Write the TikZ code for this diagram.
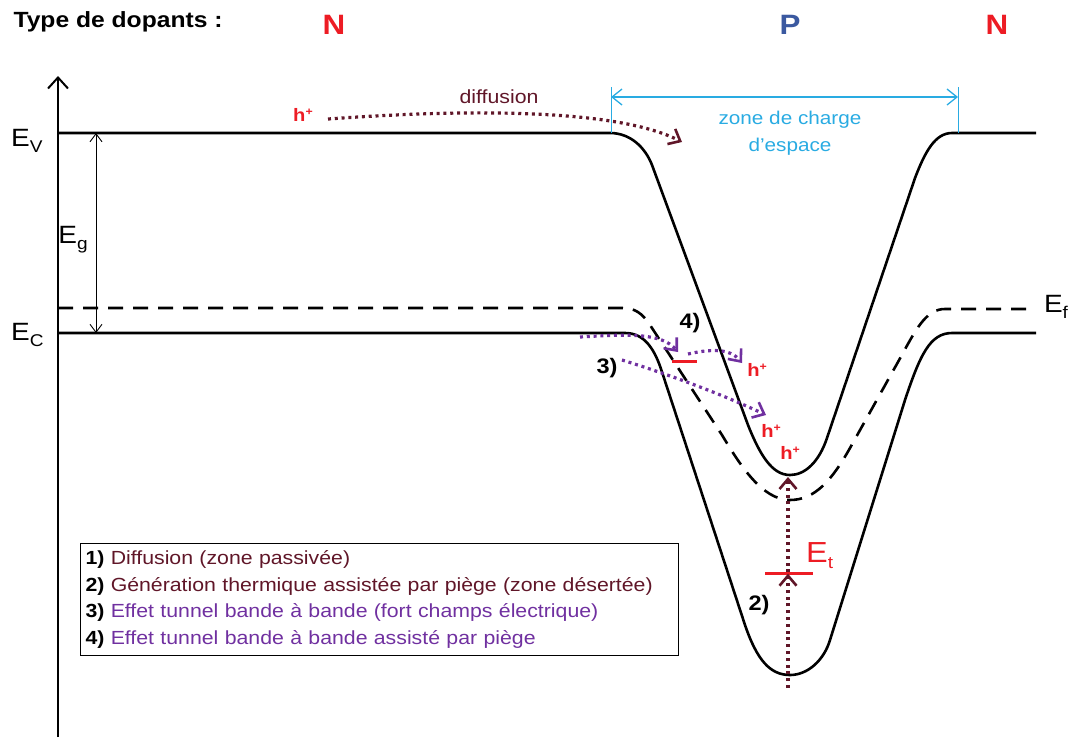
\documentclass[tikz,border=0pt]{standalone}
\usepackage{fontspec}
\setmainfont{Liberation Sans}[FakeStretch=1.12]
\usetikzlibrary{arrows.meta}
\definecolor{rougeN}{RGB}{237,28,36}
\definecolor{bleuP}{RGB}{59,89,160}
\definecolor{cyanZ}{RGB}{41,171,226}
\definecolor{bordeaux}{RGB}{96,22,40}
\definecolor{violetT}{RGB}{112,48,160}
\newcommand{\Elev}[1]{E\raisebox{-0.45ex}{\fontsize{17}{17}\selectfont #1}}
\newcommand{\hplus}{h\raisebox{0.6ex}{\fontsize{11}{11}\selectfont +}}

\begin{document}
\begin{tikzpicture}[x=1pt, y=-1pt, font=\fontsize{20}{24}\selectfont,
  band/.style={line width=2.6pt, line join=round},
  fermi/.style={band, dash pattern=on 15pt off 10pt},
  dotarr/.style={line width=3.2pt, dash pattern=on 3pt off 3.8pt,
                 -{Straight Barb[length=10pt, width=17pt, line width=2.6pt]}},
  trap/.style={rougeN, line width=3pt},
  hole/.style={text=rougeN, font=\fontsize{18}{18}\selectfont\bfseries, inner sep=1pt},
  num/.style={font=\fontsize{21}{21}\selectfont\bfseries, inner sep=1pt},
  dop/.style={font=\fontsize{28}{28}\selectfont\bfseries, inner sep=0pt},
  lvl/.style={font=\fontsize{25}{25}\selectfont, inner sep=0pt}]
\useasboundingbox (0,0) rectangle (1073,737);

% dopants
\node[anchor=west, font=\fontsize{22}{22}\selectfont\bfseries] (titre) at (10,22) {Type de dopants :};
\node[dop, text=rougeN] (dopN1) at (334,25) {N};
\node[dop, text=bleuP] (dopP) at (790,25) {P};
\node[dop, text=rougeN] (dopN2) at (997,25) {N};

% axe des energies
\coordinate (axe0) at (58,737);
\coordinate (axe1) at (58,76);
\draw[line width=2.2pt, -{Straight Barb[length=11pt, width=20pt, line width=2pt]}] (axe0) -- (axe1);

% bandes
\draw[band] (58,133) -- (610,133) .. controls (630,133) and (645,147) .. (652,165) -- (748,425)
  .. controls (760,455) and (772,475) .. (790,475) .. controls (805,475) and (819,462) .. (827,438)
  -- (915,178) .. controls (925,152) and (935,133) .. (952,133) -- (1036,133);
\draw[band] (58,333) -- (625,333) .. controls (645,333) and (655,350) .. (662,372) -- (745,625)
  .. controls (757,660) and (770,675) .. (790,675) .. controls (808,675) and (824,660) .. (830,640)
  -- (905,400) .. controls (920,355) and (930,333) .. (952,333) -- (1036,333);
\draw[fermi] (58,308) -- (622,308) .. controls (635,308) and (642,313) .. (650,325) -- (722,435)
  .. controls (740,465) and (762,500) .. (790,500) .. controls (815,500) and (832,480) .. (850,448)
  -- (903,353) .. controls (918,325) and (928,309) .. (945,309) -- (1030,309);

\node[lvl, anchor=west] (labEV) at (11,141) {\Elev{V}};
\node[lvl, anchor=west] (labEC) at (11,335) {\Elev{C}};
\node[lvl] (labEg) at (73,240) {\Elev{g}};
\node[lvl] (labEf) at (1056,307) {\Elev{f}};

% gap
\coordinate (gapV) at (96,133);
\coordinate (gapC) at (96,333);
\draw[line width=0.9pt, {Straight Barb[length=8pt, width=12pt]}-{Straight Barb[length=8pt, width=12pt]}] (gapV) -- (gapC);

% zone de charge d'espace
\coordinate (zceL) at (611,97);
\coordinate (zceR) at (958,97);
\draw[cyanZ, line width=1pt] (611,87) -- (611,133) (958,87) -- (958,133);
\draw[cyanZ, line width=1.3pt, {Straight Barb[length=10pt, width=16pt]}-{Straight Barb[length=10pt, width=16pt]}] (zceL) -- (zceR);
\node[text=cyanZ, align=center, font=\fontsize{18.5}{27}\selectfont] (zce) at (790,133) {zone de charge\\d'espace};

% 1) diffusion
\node[hole] (hdiff) at (303,115) {\hplus};
\node[text=bordeaux, font=\fontsize{19}{19}\selectfont] (diff) at (499,97) {diffusion};
\coordinate (diff0) at (328,119);
\coordinate (diff1) at (682,142);
\draw[dotarr, bordeaux] (diff0) .. controls (480,108) and (620,110) .. (diff1);

% 4) tunnel assiste
\coordinate (t4a) at (580,337);
\coordinate (t4b) at (678,352);
\coordinate (t4c) at (688,354);
\coordinate (t4d) at (742,363);
\draw[dotarr, violetT] (t4a) .. controls (630,334) and (662,333) .. (t4b);
\draw[dotarr, violetT] (t4c) .. controls (710,349) and (730,348) .. (t4d);
\draw[trap] (672,361) -- (697,361);
\node[num] (n4) at (690,323) {4)};
\node[hole] (h4) at (757,370) {\hplus};

% 3) tunnel bande a bande
\coordinate (t3a) at (622,360);
\coordinate (t3b) at (766,415);
\draw[dotarr, violetT] (t3a) .. controls (680,378) and (730,398) .. (t3b);
\node[num] (n3) at (607,368) {3)};
\node[hole] (h3) at (771,431) {\hplus};

% 2) generation thermique
\coordinate (g0) at (788,688);
\coordinate (g1) at (788,477);
\node[inner sep=0pt] (Et) at (788,573) {};
\draw[trap] (765,573) -- (813,573);
\draw[dotarr, bordeaux] (g0) -- (Et);
\draw[dotarr, bordeaux] (Et) -- (g1);
\node[lvl, text=rougeN, anchor=base west, font=\fontsize{29}{29}\selectfont] (labEt) at (806,562) {\Elev{t}};
\node[num] (n2) at (759,605) {2)};
\node[hole] (h2) at (790,453) {\hplus};

% legende
\node[draw, line width=1pt, anchor=north west, align=left, text width=588pt, inner xsep=5pt, inner ysep=7pt,
  font=\fontsize{19}{26.7}\selectfont] (legende) at (80,543)
  {\textbf{1)} \textcolor{bordeaux}{Diffusion (zone passivée)}\\
   \textbf{2)} \textcolor{bordeaux}{Génération thermique assistée par piège (zone désertée)}\\
   \textbf{3)} \textcolor{violetT}{Effet tunnel bande à bande (fort champs électrique)}\\
   \textbf{4)} \textcolor{violetT}{Effet tunnel bande à bande assisté par piège}};
\end{tikzpicture}
\end{document}
